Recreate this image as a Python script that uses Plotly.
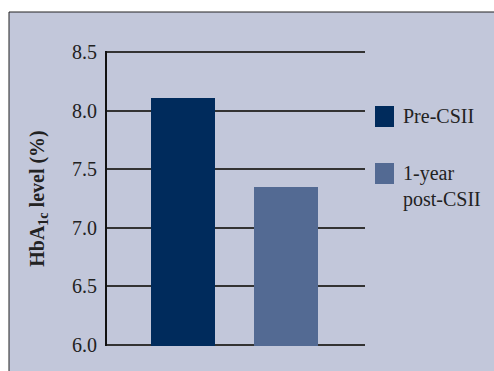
import plotly.graph_objects as go

categories = ["Pre-CSII", "1-year post-CSII"]
legend_labels = ["Pre-CSII", "1-year<br>post-CSII"]
values = [8.11, 7.35]
colors = ["#002B5C", "#536A93"]
y_ticks = [6.0, 6.5, 7.0, 7.5, 8.0, 8.5]

W, H = 494, 371
L, R, T, B = 107, 129, 51, 25
pw, ph = W - L - R, H - T - B

def px(x):
    return (x - L) / pw

def py(y):
    return 1 - (y - T) / ph

fig = go.Figure()
for c, v, col in zip(categories, values, colors):
    fig.add_trace(go.Bar(x=[c], y=[v], marker=dict(color=col, line=dict(width=0)),
                         width=0.62, showlegend=False))

shapes = [
    dict(type="rect", xref="paper", yref="paper", x0=px(9), x1=px(600), y0=py(12), y1=py(450),
         fillcolor="#C2C7DA", line=dict(color="#222222", width=1), layer="below"),
]
annotations = []
leg_y = [106, 163]
for lab, col, yy in zip(legend_labels, colors, leg_y):
    shapes.append(dict(type="rect", xref="paper", yref="paper", x0=px(375), x1=px(394),
                       y0=py(yy), y1=py(yy + 21), fillcolor=col, line=dict(width=0)))
    annotations.append(dict(xref="paper", yref="paper", x=px(401), y=py(yy - 3), text=lab,
                            showarrow=False, xanchor="left", yanchor="top", align="left",
                            font=dict(family="Liberation Serif", size=20, color="#222222")))

fig.update_layout(
    width=W, height=H,
    margin=dict(l=L, r=R, t=T, b=B),
    paper_bgcolor="white", plot_bgcolor="rgba(0,0,0,0)",
    shapes=shapes, annotations=annotations,
    bargap=0,
    xaxis=dict(showticklabels=False, showgrid=False, zeroline=False, ticks="",
               range=[-0.738, 1.767], fixedrange=True),
    yaxis=dict(range=[5.99, 8.51], tickvals=y_ticks, ticktext=[f"{t:.1f}" for t in y_ticks],
               showgrid=True, gridcolor="#333333", gridwidth=2, zeroline=False,
               showline=True, linecolor="#111111", linewidth=2,
               ticks="", ticklen=0, ticklabelstandoff=4,
               tickfont=dict(family="Liberation Serif", size=20, color="#222222"),
               title=dict(text="<b>HbA<sub>1c</sub> level (%)</b>", standoff=22,
                          font=dict(family="Liberation Serif", size=20, color="#222222"))),
)

fig.write_html("out.html")
